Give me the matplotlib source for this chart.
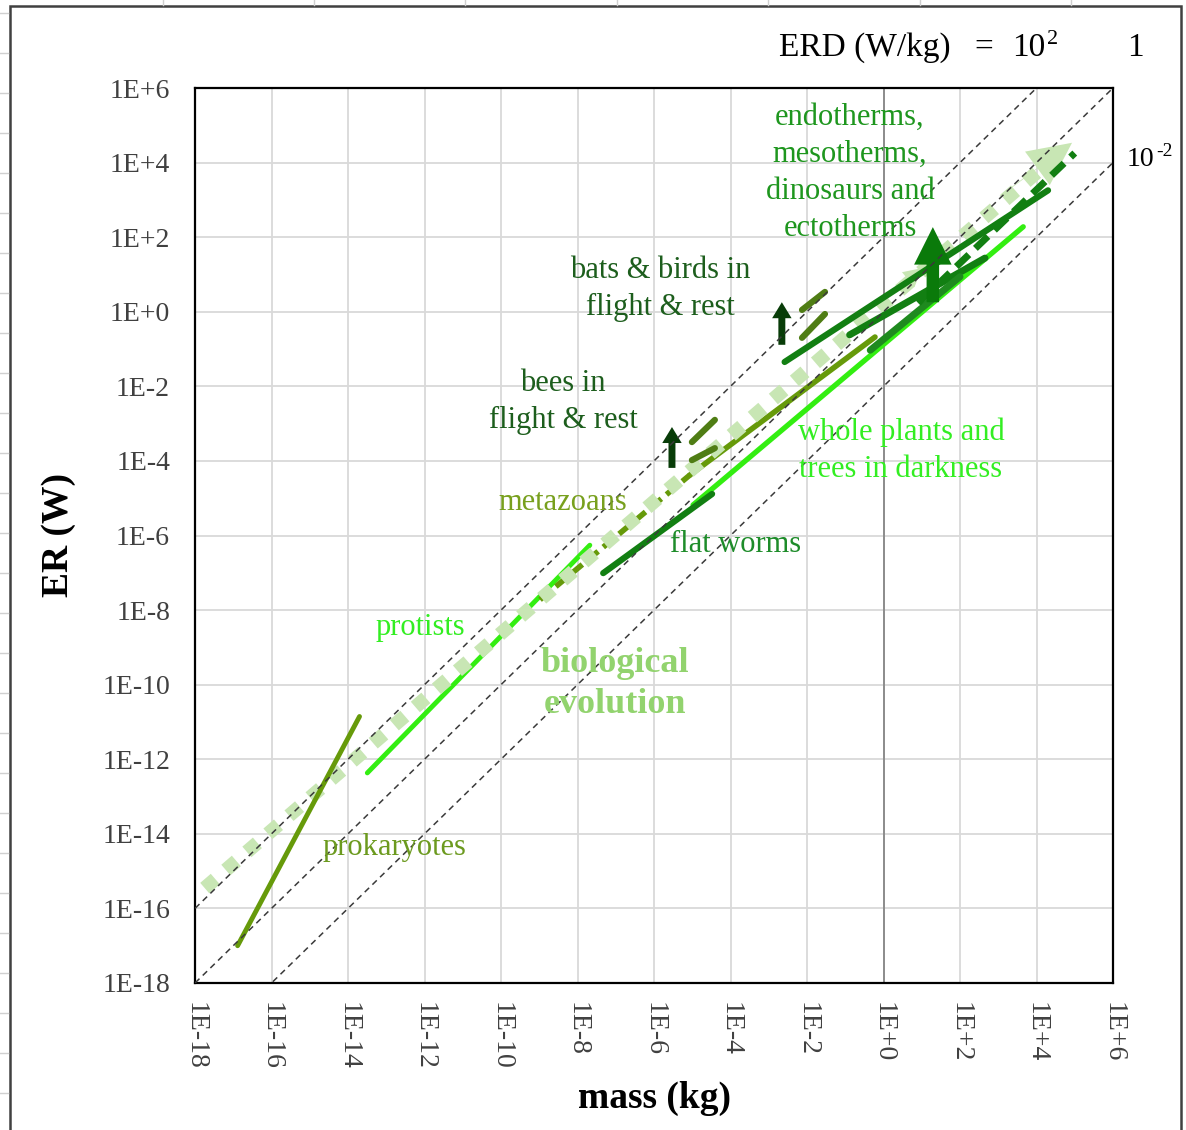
import numpy as np
import matplotlib
matplotlib.use('Agg')
import matplotlib.pyplot as plt
from matplotlib.patches import Rectangle
from matplotlib.lines import Line2D

plt.rcParams['font.family'] = ['Liberation Serif', 'DejaVu Serif']
plt.rcParams['mathtext.fontset'] = 'stix'

# ---- data (mass in kg, ER in W) ----
tick_exp = list(range(-18, 7, 2))
tick_labels = ['1E-18', '1E-16', '1E-14', '1E-12', '1E-10', '1E-8', '1E-6',
               '1E-4', '1E-2', '1E+0', '1E+2', '1E+4', '1E+6']
erd_values = [1e2, 1.0, 1e-2]          # W/kg reference lines
ref_mass = [1e-20, 1e8]

evo_mass = [1.8e-18, 1.2e4]
evo_er = [3.5e-16, 6.3e3]
evo_head_tail = (1.1e3, 1.26e3)
evo_head_tip = (8.5e4, 3.4e4)
evo_small_tail = (2.6, 4.6)
evo_small_tip = (10.2, 14.8)

prok_mass = [1.3e-17, 2.0e-14]
prok_er = [1.0e-17, 1.4e-11]

protist_mass = [3.2e-14, 2.1e-8]
protist_er = [4.3e-13, 5.5e-7]

meta_dash_mass = [1.05e-9, 8.7e-6]
meta_dash_er = [1.9e-8, 4.2e-5]
meta_mass = [8.7e-6, 0.6]
meta_er = [4.2e-5, 0.21]

worm_mass = [4.7e-8, 3.3e-5]
worm_er = [9.8e-8, 1.3e-5]

plant_mass = [1.05e-5, 4.5e3]
plant_er = [6.6e-6, 1.9e2]

bee_mass = [9.8e-6, 3.9e-5]
bee_flight_er = [3.2e-4, 1.26e-3]
bee_rest_er = [1.05e-4, 2.2e-4]
bee_arrow_mass = 2.95e-6
bee_arrow_er = [6.5e-5, 8.1e-4]

bat_mass = [7.4e-3, 2.95e-2]
bat_flight_er = [1.12, 3.4]
bat_rest_er = [0.2, 0.87]
bat_arrow_mass = 2.2e-3
bat_arrow_er = [0.13, 1.8]

endo1_mass = [2.6e-3, 2.0e4]
endo1_er = [4.5e-2, 1.8e3]
endo2_mass = [8.1, 1.0e5]
endo2_er = [1.7, 1.8e4]
endo3_mass = [0.13, 4.5e2]
endo3_er = [0.24, 27.5]
endo4_mass = [0.45, 1.0e2]
endo4_er = [0.093, 8.7]
big_arrow_mass = 19.5
big_arrow_er = [1.8, 186]

# ---- colours ----
c_olive = '#669a0a'
c_lime = '#33ee11'
c_dark = '#127f12'
c_darker = '#083c08'
c_dash = '#4f7d14'
c_evo = '#c8e6b4'

W, H = 1186, 1130
fig = plt.figure(figsize=(W / 100, H / 100), dpi=100)


def fx(x):
    return x / W


def fy(y):
    return 1 - y / H


ax = fig.add_axes([fx(195), fy(983), fx(1113) - fx(195), fy(88) - fy(983)])
ax.set_xscale('log')
ax.set_yscale('log')
ax.set_xlim(1e-18, 1e6)
ax.set_ylim(1e-18, 1e6)
ticks = [10.0 ** e for e in tick_exp]
ax.set_xticks(ticks)
ax.set_yticks(ticks)
ax.minorticks_off()
ax.set_xticklabels(tick_labels, rotation=270, fontsize=20, color='#404040')
ax.set_yticklabels(tick_labels, fontsize=20, color='#404040')
ax.tick_params(length=0, pad=14)
ax.tick_params(axis='y', pad=18)
ax.grid(True, color='#d9d9d9', lw=1.3, zorder=0)
ax.set_axisbelow(True)
ax.axvline(1.0, color='#7f7f7f', lw=1.2, zorder=1)
for s in ax.spines.values():
    s.set_linewidth(1.6)
    s.set_color('black')

# reference ERD lines
for erd in erd_values:
    ax.plot(ref_mass, [erd * m for m in ref_mass], color='#3a3a3a', lw=1.1,
            ls=(0, (4, 3)), zorder=8)

# data lines
ax.plot(protist_mass, protist_er, color=c_lime, lw=3.5, solid_capstyle='round', zorder=2)
ax.plot(plant_mass, plant_er, color=c_lime, lw=3.8, solid_capstyle='round', zorder=2)
ax.plot(meta_dash_mass, meta_dash_er, color=c_olive, lw=4, ls=(0, (2.5, 1.2)), zorder=2)
ax.plot(meta_mass, meta_er, color=c_olive, lw=4, solid_capstyle='round', zorder=2)
ax.plot(evo_mass, evo_er, color=c_evo, lw=10, ls=(0, (1, 1.0)),
        dash_capstyle='butt', zorder=3)
ax.plot(prok_mass, prok_er, color=c_olive, lw=3.5, solid_capstyle='round', zorder=4)
ax.plot(worm_mass, worm_er, color=c_dark, lw=4.5, solid_capstyle='round', zorder=4)

ax.plot(bee_mass, bee_flight_er, color=c_dash, lw=4.5, solid_capstyle='round', zorder=4)
ax.plot(bee_mass, bee_rest_er, color=c_dash, lw=4.5, solid_capstyle='round', zorder=4)
ax.plot(bat_mass, bat_flight_er, color=c_dash, lw=4.5, solid_capstyle='round', zorder=4)
ax.plot(bat_mass, bat_rest_er, color=c_dash, lw=4.5, solid_capstyle='round', zorder=4)

ax.plot(endo1_mass, endo1_er, color=c_dark, lw=4.5, solid_capstyle='round', zorder=4)
ax.plot(endo3_mass, endo3_er, color=c_dark, lw=5, solid_capstyle='round', zorder=4)
ax.plot(endo4_mass, endo4_er, color='#1f8a1f', lw=5, solid_capstyle='round', zorder=4)
ax.plot(endo2_mass, endo2_er, color=c_dark, lw=5, ls=(0, (2.5, 1.3)), zorder=5)


def arrow(tail, tip, color, hl, hw, tw, z):
    ax.annotate('', xy=tip, xytext=tail, zorder=z,
                arrowprops=dict(arrowstyle='simple,head_length=%g,head_width=%g,tail_width=%g'
                                % (hl, hw, tw),
                                mutation_scale=10, color=color, lw=0,
                                shrinkA=0, shrinkB=0))


arrow(evo_head_tail, evo_head_tip, c_evo, 3.1, 3.0, 0.05, 3)
arrow(evo_small_tail, evo_small_tip, c_evo, 1.3, 1.4, 0.05, 3)
arrow((bee_arrow_mass, bee_arrow_er[0]), (bee_arrow_mass, bee_arrow_er[1]),
      c_darker, 1.15, 1.4, 0.5, 6)
arrow((bat_arrow_mass, bat_arrow_er[0]), (bat_arrow_mass, bat_arrow_er[1]),
      c_darker, 1.15, 1.4, 0.5, 6)
arrow((big_arrow_mass, big_arrow_er[0]), (big_arrow_mass, big_arrow_er[1]),
      '#0a7a0a', 2.7, 2.7, 0.9, 6)

# labels inside the plot
lab = dict(ha='center', va='center', fontsize=22, linespacing=1.36)
fig.text(fx(850), fy(173), 'endotherms,\nmesotherms,\ndinosaurs and\nectotherms',
         color='#1e961e', **lab)
fig.text(fx(660), fy(289), 'bats & birds in\nflight & rest', color='#1d5e1d', **lab)
fig.text(fx(563), fy(402), 'bees in\nflight & rest', color='#1d5e1d', **lab)
fig.text(fx(563), fy(502), 'metazoans', color='#78a01e', **lab)
fig.text(fx(736), fy(545), 'flat worms', color='#1e8c2a', **lab)
fig.text(fx(901), fy(451), 'whole plants and\ntrees in darkness', color='#33ee22', **lab)
fig.text(fx(420), fy(628), 'protists', color='#33ee22', **lab)
fig.text(fx(394), fy(848), 'prokaryotes', color='#6c9a1f', **lab)
fig.text(fx(615), fy(684), 'biological\nevolution', color='#92d36e', ha='center',
         va='center', fontsize=26, fontweight='bold', linespacing=1.3)

# ERD annotations
fig.text(fx(779), fy(48), 'ERD (W/kg)', fontsize=24, ha='left', va='center')
fig.text(fx(984), fy(48), '=', fontsize=24, ha='center', va='center')
fig.text(fx(1012), fy(48), '10', fontsize=24, ha='left', va='center')
fig.text(fx(1047), fy(40), '2', fontsize=16, ha='left', va='center')
fig.text(fx(1135), fy(48), '1', fontsize=24, ha='center', va='center')
fig.text(fx(1127), fy(160), '10', fontsize=20, ha='left', va='center')
fig.text(fx(1156), fy(151), '-2', fontsize=14, ha='left', va='center')

# axis titles
fig.text(fx(58), fy(535), 'ER (W)', rotation=90, fontsize=27, fontweight='bold',
         ha='center', va='center')
fig.text(fx(655), fy(1098), 'mass (kg)', fontsize=27, fontweight='bold',
         ha='center', va='center')

# chart border and faint sheet grid outside it
fig.patches.append(Rectangle((fx(10), fy(1200)), fx(1181) - fx(10), fy(6) - fy(1200),
                             transform=fig.transFigure, fill=False,
                             edgecolor='#404040', lw=1.8))
for x in [163, 314, 465, 617, 768, 920, 1071]:
    fig.add_artist(Line2D([fx(x), fx(x)], [fy(0), fy(5)], color='#d0d0d0', lw=1))
for y in range(13, 1130, 40):
    fig.add_artist(Line2D([fx(0), fx(8)], [fy(y), fy(y)], color='#d0d0d0', lw=1))

fig.savefig('out.png', dpi=100)
